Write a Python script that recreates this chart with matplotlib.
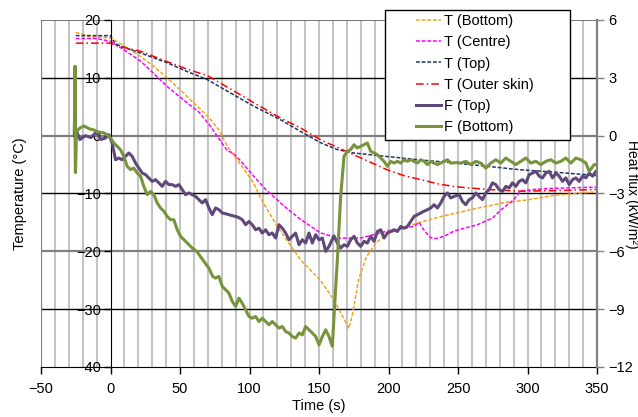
import matplotlib
matplotlib.use("Agg")
import matplotlib.pyplot as plt
from matplotlib.lines import Line2D
from matplotlib.patches import Rectangle

# temperatures (deg C)
t_bot = [-25, -20, -15, -5, 0, 10, 21.6, 30, 40.8, 55, 65, 72, 78, 84, 93, 103, 108, 120, 136.8, 151, 160.7, 166, 171.5,
         174, 178.5, 184, 191, 198, 206, 221, 237.6, 259, 283, 300, 320, 350]
T_bot = [17.8, 17.6, 17.1, 17.0, 16.9, 15.5, 13.7, 12.2, 10.0, 6.8, 4.5, 2.8, 1.0, -1.8, -4.8, -8.2, -10.8, -15.7, -21.5,
         -25.0, -28.4, -30.8, -33.3, -31.0, -24.9, -21.0, -18.5, -17.2, -16.3, -15.1, -14.0, -12.8, -11.6, -11.1, -10.3, -9.7]

t_cen = [-25, -10, 0, 10, 21.6, 30, 40.8, 55, 64, 72, 80, 84, 88, 93, 103, 112, 120, 125, 136.8, 151, 163, 180, 199, 212,
         218, 222, 226, 230, 234, 240, 247, 264, 275, 281, 290, 295, 305, 319, 350]
T_cen = [16.8, 16.8, 16.3, 14.8, 12.9, 11.0, 8.5, 5.7, 4.0, 1.6, -1.2, -2.6, -3.0, -4.2, -7.0, -9.4, -11.1, -12.2, -14.5,
         -16.8, -17.7, -17.7, -16.5, -16.0, -15.7, -15.0, -16.5, -17.6, -17.8, -17.4, -16.5, -15.4, -14.2, -12.8, -11.1,
         -9.6, -9.3, -9.1, -8.9]

t_top = [-25, 0, 3, 7, 21.6, 40.8, 55, 69.6, 84, 103, 122, 137, 151, 163, 175, 199, 223, 247, 271, 295, 319, 350]
T_top = [17.3, 17.3, 16.0, 15.5, 14.3, 12.6, 11.1, 9.7, 7.7, 5.1, 2.8, 0.7, -1.2, -2.4, -3.0, -3.6, -4.2, -4.7, -5.3,
         -5.9, -6.3, -6.9]

t_out = [-25, 0, 5, 21.6, 40.8, 55, 69.6, 84, 103, 122, 137, 151, 163, 175, 187, 199, 211, 223, 235, 247, 271, 295, 320, 350]
T_out = [16.0, 16.0, 15.5, 14.6, 12.8, 11.5, 10.4, 8.4, 5.7, 3.1, 1.3, -0.7, -2.0, -3.3, -4.6, -5.9, -6.9, -7.6, -8.3,
         -8.8, -9.3, -9.6, -9.5, -9.3]

# heat flux (kW/m2)
tf_top = [-26, -25.5, -25.2, -24.8, -22, -18, -14, -10, -7, -3.6, -1.2, 1.2, 3.6, 6, 8.4, 10.8, 13.2, 15.6, 18, 20.4,
          22.8, 25.2, 27.6, 30, 32.4, 34.8, 37.2, 39.6, 42, 44.4, 46.8, 49.2, 51.6, 54, 56.4, 58.8, 61.2, 63.6, 66, 68.4,
          70.8, 73.2, 75.6, 78, 80.4, 82.8, 85.2, 87.6, 90, 92.4, 94.8, 97.2, 99.6, 102, 104.4, 106.8, 109.2, 111.6, 114,
          116.4, 118.8, 121.2, 123.6, 126, 128.4, 130.8, 133.2, 135.6, 138, 140.4, 142.8, 145.2, 147.6, 150, 152.4,
          154.8, 157.2, 160.8, 163.2, 165.6, 168, 170.4, 172.8, 175.2, 177.6, 180, 182.4, 184.8, 187.2, 189.6, 192,
          194.4, 196.8, 199.2, 201.6, 204, 206.4, 208.8, 211.2, 213.6, 216, 218.4, 220.8, 223.2, 225.6, 228, 230.4,
          232.8, 235.2, 237.6, 240, 242.4, 244.8, 247.2, 250.8, 253.2, 255.6, 258, 260.4, 262.8, 265.2, 267.6, 270,
          272.4, 274.8, 277.2, 279.6, 282, 284.4, 286.8, 289.2, 291.6, 294, 296.4, 298.8, 301.2, 303.6, 306, 308.4,
          310.8, 313.2, 315.6, 318, 320.4, 322.8, 325.2, 327.6, 330, 332.4, 334.8, 337.2, 339.6, 342, 344.4, 346.8,
          349.2, 350]
F_top = [0.0, 2.7, -1.9, 0.3, -0.2, 0.0, -0.1, 0.2, -0.2, -0.12, 0.05, -0.38, -1.25, -1.16, -1.25, -1.07, -0.9, -1.07,
         -1.42, -1.68, -1.94, -2.02, -2.2, -2.37, -2.28, -2.45, -2.63, -2.37, -2.54, -2.54, -2.63, -2.54, -2.8, -3.06,
         -2.97, -3.06, -3.15, -3.32, -3.49, -3.32, -3.75, -4.1, -3.75, -3.84, -4.01, -4.05, -4.1, -4.15, -4.19, -4.25,
         -4.36, -4.62, -4.45, -4.62, -4.88, -4.8, -5.05, -4.88, -5.14, -5.05, -5.31, -4.62, -4.8, -5.05, -5.4, -5.22,
         -5.05, -5.66, -5.4, -5.57, -5.05, -5.57, -5.14, -5.4, -5.31, -6.0, -5.74, -5.2, -5.57, -5.83, -5.66, -5.74,
         -5.4, -5.22, -5.57, -5.74, -5.48, -5.57, -5.22, -5.48, -4.97, -4.88, -5.31, -5.05, -4.97, -4.88, -4.97, -4.71,
         -4.8, -4.71, -4.45, -4.19, -4.1, -4.01, -3.92, -3.84, -3.75, -3.58, -3.75, -3.49, -3.15, -2.97, -3.23, -3.15,
         -3.06, -3.41, -3.58, -3.32, -3.23, -2.97, -3.15, -3.32, -2.97, -2.8, -2.45, -2.54, -2.8, -2.89, -2.63, -2.71,
         -2.45, -2.63, -2.37, -2.28, -2.45, -2.02, -1.94, -1.85, -2.1, -2.19, -1.94, -1.85, -2.19, -1.94, -2.1, -2.37,
         -2.19, -2.54, -2.28, -2.19, -2.37, -2.1, -2.19, -1.94, -2.1, -1.85, -1.9]

tf_bot = [-26, -25.5, -25.2, -24.8, -22, -19, -15, -12, -9.6, -5, -2.4, 0, 2.4, 4.8, 7.2, 9.6, 12, 14.4, 16.8, 19.2,
          21.6, 24, 26.4, 28.8, 31.2, 33.6, 36, 38.4, 40.8, 43.2, 45.6, 48, 50.4, 54, 58.8, 62, 65, 68, 71, 73.5, 75.6,
          78, 80.4, 82.8, 85.2, 87.6, 90, 92.4, 94.8, 97.2, 99.6, 102, 104.4, 106.8, 109.2, 111.6, 114, 116.4, 118.8,
          121.2, 123.6, 126, 128.4, 130.8, 133.2, 135.6, 138, 140.4, 142.8, 145.2, 147.6, 150, 152.4, 154.8, 157.2,
          159.6, 161.5, 163.2, 165.6, 168, 170.4, 172.8, 175.2, 177.6, 180, 182.4, 184.8, 187.2, 189.6, 192, 194.4,
          196.8, 199.2, 201.6, 204, 206.4, 208.8, 211.2, 213.6, 216, 218.4, 220.8, 223.2, 225.6, 228, 230.4, 232.8,
          235.2, 237.6, 240, 242.4, 244.8, 248.4, 252, 255.6, 259.2, 262.8, 266.4, 270, 273.6, 277.2, 280.8, 284.4, 288,
          291.6, 295.2, 298.8, 302.4, 306, 309.6, 313.2, 316.8, 320.4, 324, 327.6, 331.2, 334.8, 338.4, 342, 344.4, 348,
          350]
F_bot = [0.3, 3.6, -1.9, 0.2, 0.4, 0.5, 0.35, 0.3, 0.2, 0.15, 0.05, -0.12, -0.38, -0.55, -0.73, -1.07, -1.59, -1.76,
         -1.68, -1.94, -2.1, -2.63, -3.06, -2.89, -3.06, -3.49, -3.75, -3.92, -4.19, -4.36, -4.36, -4.88, -5.22, -5.48,
         -5.83, -6.0, -6.3, -6.6, -6.9, -7.3, -7.39, -7.3, -7.82, -7.99, -8.17, -8.6, -8.86, -8.43, -8.69, -9.04, -9.38,
         -9.47, -9.38, -9.64, -9.47, -9.64, -9.81, -9.64, -9.81, -9.98, -9.9, -10.16, -10.24, -10.42, -10.5, -10.24,
         -10.33, -9.9, -10.07, -10.24, -10.42, -10.85, -10.42, -10.07, -10.42, -10.93, -8.5, -6.43, -3.15, -1.07, -0.81,
         -0.72, -0.47, -0.64, -0.55, -0.47, -0.38, -0.81, -0.9, -0.99, -1.16, -1.33, -1.59, -1.33, -1.42, -1.33, -1.42,
         -1.25, -1.33, -1.25, -1.33, -1.42, -1.25, -1.33, -1.5, -1.33, -1.42, -1.5, -1.42, -1.33, -1.25, -1.42, -1.4,
         -1.42, -1.33, -1.5, -1.33, -1.42, -1.68, -1.42, -1.25, -1.42, -1.16, -1.33, -1.5, -1.33, -1.16, -1.42, -1.33,
         -1.5, -1.33, -1.25, -1.42, -1.33, -1.16, -1.42, -1.16, -1.25, -1.42, -1.85, -1.5, -1.5]

labels = ["T (Bottom)", "T (Centre)", "T (Top)", "T (Outer skin)", "F (Top)", "F (Bottom)"]
c_bot = "#F7A21B"; c_cen = "#FF00FF"; c_top = "#1F3864"; c_out = "#FF0000"
c_ftop = "#5F497A"; c_fbot = "#77933C"

plt.rcParams['font.family'] = ['Liberation Sans', 'DejaVu Sans']
plt.rcParams['font.size'] = 10

fig = plt.figure(figsize=(6.38, 4.17), dpi=100)
ax = fig.add_axes([41/638, 50/417, 556/638, 347/417])
ax.set_xlim(-50, 350)
ax.set_ylim(-40, 20)

# vertical grid every 10 s
for x in range(-40, 350, 10):
    if x == 0:
        continue
    ax.axvline(x, color="#c4c4c4", lw=1.5, zorder=0)
for y in [10, -10, -30]:
    ax.axhline(y, color="black", lw=1, zorder=0.5)
for y in [0, -20]:
    ax.axhline(y, color="#808080", lw=1.6, zorder=0.5)
ax.axvline(-50, color="#808080", lw=1.6, zorder=0.5)
ax.axhline(20, color="#606060", lw=1.2, zorder=0.5)

ax.plot(t_bot, T_bot, color=c_bot, lw=1.1, dashes=(2.5, 1.2))
ax.plot(t_cen, T_cen, color=c_cen, lw=1.1, dashes=(2.5, 1.2))
ax.plot(t_top, T_top, color=c_top, lw=1.1, dashes=(2.5, 1.2))
ax.plot(t_out, T_out, color=c_out, lw=1.1, dashes=(5, 2, 1, 2))

ax.spines['left'].set_position(('data', 0))
ax.spines['left'].set_color("black")
ax.spines['top'].set_visible(False)
ax.spines['right'].set_visible(False)
ax.set_xticks(range(-50, 351, 50))
ax.set_yticks(range(-40, 21, 10))
ax.tick_params(direction='out', length=5, width=1, labelsize=10.5, pad=2)
ax.tick_params(axis='x', pad=6)

ax2 = ax.twinx()
ax2.set_ylim(-12, 6)
ax2.set_yticks(range(-12, 7, 3))
ax2.plot(tf_top, F_top, color=c_ftop, lw=2.2, solid_joinstyle='round')
ax2.plot(tf_bot, F_bot, color=c_fbot, lw=2.2, solid_joinstyle='round')
for s in ['left', 'top', 'bottom']:
    ax2.spines[s].set_visible(False)
ax2.spines['right'].set_color("#808080")
ax2.spines['right'].set_linewidth(1.6)
ax2.tick_params(direction='out', length=5, width=1, color="#808080", labelsize=10.5, pad=3)

ax.set_xlabel("Time (s)", fontsize=10.5, labelpad=2)
fig.text(20/638, 0.535, "Temperature (°C)", rotation=90, ha='center', va='center', fontsize=10.5)
fig.text(632/638, 0.535, "Heat flux (kW/m²)", rotation=270, ha='center', va='center', fontsize=10)

# legend with its own box
fig.patches.append(Rectangle((385/638, 277/417), 185/638, 130/417, transform=fig.transFigure,
                             facecolor="white", edgecolor="black", lw=1, zorder=5))
handles = [Line2D([], [], color=c_bot, lw=1.1, dashes=(2.5, 1.2)),
           Line2D([], [], color=c_cen, lw=1.1, dashes=(2.5, 1.2)),
           Line2D([], [], color=c_top, lw=1.1, dashes=(2.5, 1.2)),
           Line2D([], [], color=c_out, lw=1.1, dashes=(5, 2, 1, 2)),
           Line2D([], [], color=c_ftop, lw=2.2),
           Line2D([], [], color=c_fbot, lw=2.2)]
leg = fig.legend(handles, labels, loc='upper left', bbox_to_anchor=(416/638, 403/417), frameon=False,
                 fontsize=10.5, borderpad=0, borderaxespad=0, handlelength=1.7, handletextpad=0.2,
                 labelspacing=0.5)
leg.set_zorder(6)

fig.savefig("out.png", dpi=100)
